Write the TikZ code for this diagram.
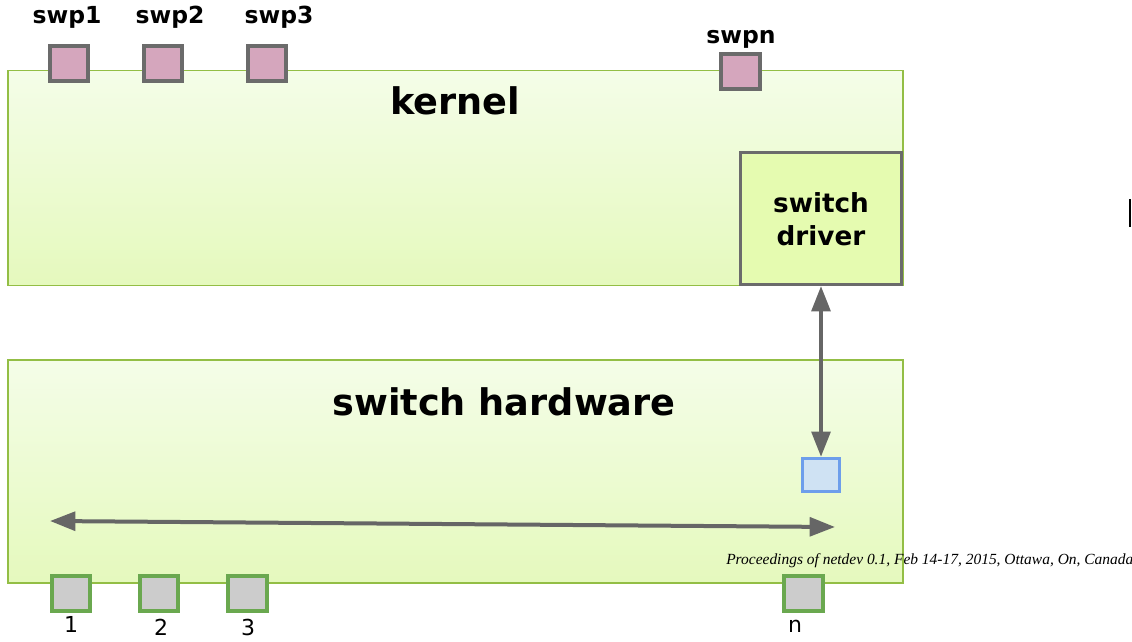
\documentclass[tikz,border=0pt]{standalone}
\usepackage{fontspec}
\setmainfont{DejaVu Sans}
\newfontfamily\procfont{Liberation Serif}
\usetikzlibrary{arrows.meta}

\definecolor{layerline}{HTML}{93BE45}
\definecolor{layertop}{HTML}{F4FDE8}
\definecolor{layerbot}{HTML}{E5F9BD}
\definecolor{drvfill}{HTML}{E5FBB0}
\definecolor{portgray}{HTML}{6B6B6B}
\definecolor{swpfill}{HTML}{D5A6BD}
\definecolor{hwfill}{HTML}{CCCCCC}
\definecolor{hwline}{HTML}{6AA84F}
\definecolor{asicfill}{HTML}{CFE2F3}
\definecolor{asicline}{HTML}{6D9EEB}
\definecolor{arrowgray}{HTML}{666666}

\tikzset{
  link/.style={draw=arrowgray,line width=3pt,
    {Triangle[length=19pt,width=14pt]}-{Triangle[length=19pt,width=14pt]}},
  biglabel/.style={anchor=base,font=\bfseries\fontsize{27.5}{30}\selectfont},
  swplabel/.style={anchor=base,font=\bfseries\fontsize{17.6}{20}\selectfont},
  numlabel/.style={anchor=base,inner sep=0pt,font=\fontsize{16.5}{18}\selectfont}
}

\begin{document}
\begin{tikzpicture}[x=0.75pt,y=-0.75pt]
\useasboundingbox (0,0) rectangle (1132,642);

% layers
\begin{scope}[every node/.style={rectangle,draw=layerline,line width=1.1pt,
              top color=layertop,bottom color=layerbot,
              minimum width=671pt,inner sep=0pt}]
    \node[minimum height=161pt] (kernel) at (455.5,178) {};
    \node[minimum height=167pt] (hw) at (455.5,471.5) {};
\end{scope}

\node[rectangle,draw=portgray,line width=2.3pt,fill=drvfill,
      minimum width=121pt,minimum height=99pt,inner sep=0pt] (drv) at (821,218.5) {};

% ports
\begin{scope}[every node/.style={rectangle,line width=2.8pt,inner sep=0pt,
              minimum width=29pt,minimum height=26pt}]
    \node[draw=portgray,fill=swpfill] (swp1) at (69,63.5) {};
    \node[draw=portgray,fill=swpfill] (swp2) at (163,63.5) {};
    \node[draw=portgray,fill=swpfill] (swp3) at (267,63.5) {};
    \node[draw=portgray,fill=swpfill] (swpn) at (740.5,71.5) {};
    \node[draw=hwline,fill=hwfill] (p1) at (71,593.5) {};
    \node[draw=hwline,fill=hwfill] (p2) at (159,593.5) {};
    \node[draw=hwline,fill=hwfill] (p3) at (247.5,593.5) {};
    \node[draw=hwline,fill=hwfill] (pn) at (803.5,593.5) {};
    \node[draw=asicline,fill=asicfill,line width=2.2pt,
          minimum width=28pt,minimum height=25pt] (asic) at (821,475) {};
\end{scope}

% labels
\node[biglabel] (lkernel) at (455,114) {kernel};
\node[biglabel] (lhw) at (504,415) {switch hardware};
\node[anchor=base,font=\bfseries\fontsize{19.7}{24.7}\selectfont,align=center]
    (ldrv) at (821,245) {switch\\driver};
\node[swplabel] (lswp1) at (67,24) {swp1};
\node[swplabel] (lswp2) at (170,24) {swp2};
\node[swplabel] (lswp3) at (279,24) {swp3};
\node[swplabel] (lswpn) at (741,44) {swpn};
\node[numlabel] (l1) at (71,632) {1};
\node[numlabel] (l2) at (161,635) {2};
\node[numlabel] (l3) at (248,635) {3};
\node[numlabel] (ln) at (795,632) {n};
\node[anchor=base west,inner sep=0pt,font=\procfont\itshape\fontsize{11.6}{14}\selectfont]
    (proc) at (726,564) {Proceedings of netdev 0.1, Feb 14-17, 2015, Ottawa, On, Canada};

% links
\draw[link] (drv.south) -- (asic.north);
\coordinate (hl) at (50,521);
\coordinate (hr) at (835,527);
\draw[link] (hl) -- (hr);

\fill (1129.3,199) rectangle (1131.3,227);
\end{tikzpicture}
\end{document}
